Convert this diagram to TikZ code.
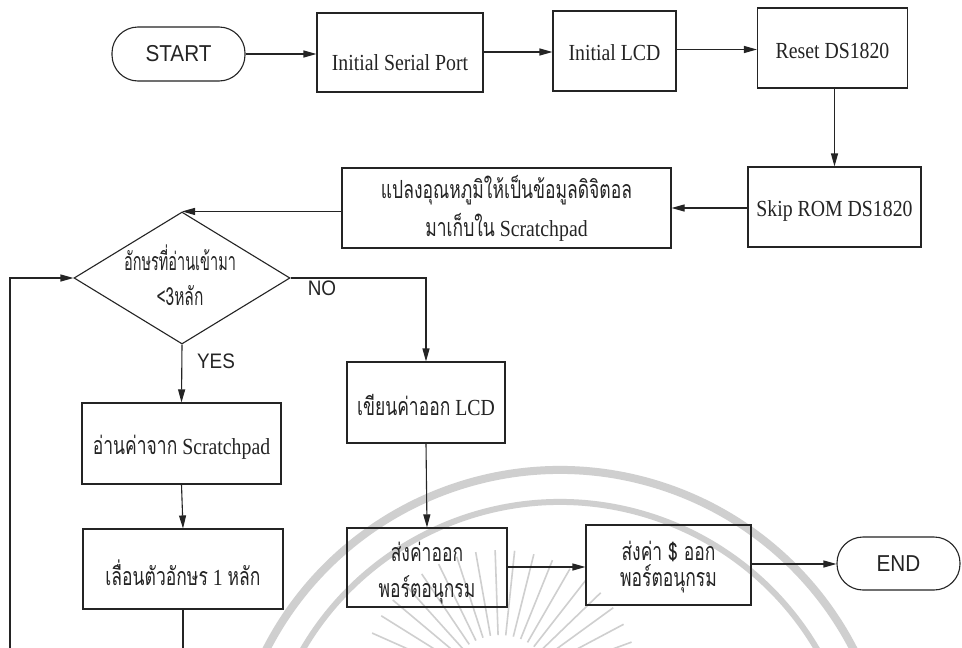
\documentclass[tikz,border=0pt]{standalone}
\usepackage{graphicx}
\usepackage{fontspec}
\setmainfont{Liberation Serif}[FakeStretch=0.86]
\newfontfamily\thaif{Loma}[Script=Thai]
\newfontfamily\sansf{Liberation Sans}[FakeStretch=0.9]
\usetikzlibrary{shapes.geometric,arrows.meta}

\definecolor{ink}{HTML}{242424}
\definecolor{seal}{HTML}{CFCFCF}

% lower a line of text inside its box without changing the box size
\newcommand\dropby[2]{\raisebox{-#1}[\height][\depth]{#2}}
% narrow, tall Thai lettering (optional argument: horizontal squeeze)
\newcommand\thaitxt[2][0.7]{{\thaif\fontsize{25}{30}\selectfont\scalebox{#1}[1]{#2}}}

\tikzset{
  base/.style={draw=ink, line width=1.1pt, text=ink, inner sep=0pt, align=center},
  box/.style={base, rectangle, font=\fontsize{23}{28}\selectfont},
  term/.style={base, rectangle, rounded corners=26pt, font=\sansf\fontsize{23}{28}\selectfont},
  decision/.style={base, diamond},
  words/.style={text=ink, inner sep=0pt, align=center},
  flow/.style={draw=ink, line width=1.1pt, -{Triangle[length=13pt,width=7pt]}},
  link/.style={draw=ink, line width=1.1pt},
  tag/.style={text=ink, inner sep=0pt, font=\sansf\fontsize{21}{24}\selectfont},
}

\begin{document}
\begin{tikzpicture}[x=1pt,y=-1pt]
\useasboundingbox (0,0) rectangle (962,648);
\clip (0,0) rectangle (962,648);
\fill[white] (0,0) rectangle (962,648);

% faint seal printed behind the chart
\begin{scope}[draw=seal]
  \draw[line width=8pt] (560,800) ++(200:330) arc[start angle=200, end angle=340, radius=330];
  \draw[line width=6pt] (560,800) ++(198:298) arc[start angle=198, end angle=342, radius=298];
  \foreach \a in {196,204,...,344}
    \draw[line width=1.6pt] (500,690) ++(\a:55) -- ++(\a:85);
\end{scope}

% top row
\node[term, minimum width=133pt, minimum height=54pt] (start) at (178.5,54) {START};
\node[box, minimum width=166pt, minimum height=79pt] (isp) at (400,52.5) {\dropby{10pt}{Initial Serial Port}};
\node[box, minimum width=123pt, minimum height=80pt] (ilcd) at (614.5,51) {\dropby{2pt}{Initial LCD}};
\node[box, minimum width=150pt, minimum height=80pt] (reset) at (832.5,48) {\dropby{3pt}{Reset DS1820}};

% second row
\node[box, minimum width=173pt, minimum height=80pt] (skip) at (834.5,207) {\dropby{4pt}{Skip ROM DS1820}};
\node[box, minimum width=329pt, minimum height=80pt, font=\fontsize{23}{38}\selectfont] (conv) at (506.5,208)
  {\thaitxt{แปลงอุณหภูมิให้เป็นข้อมูลดิจิตอล}\\\thaitxt{มาเก็บใน} Scratchpad};

% decision
\node[decision, minimum width=216pt, minimum height=132pt] (dia) at (182,278) {};
\node[words, font=\fontsize{22}{35}\selectfont] (diatext) at (180,275)
  {\thaitxt[0.58]{อักษรที่อ่านเข้ามา}\\\thaitxt[0.62]{<3หลัก}};
\node[tag] (no) at (322,288) {NO};
\node[tag] (yes) at (216,361) {YES};

% left branch
\node[box, minimum width=199pt, minimum height=81pt] (read) at (181.5,443.5)
  {\dropby{4pt}{\thaitxt{อ่านค่าจาก} Scratchpad}};
\node[box, minimum width=200pt, minimum height=80pt] (shift) at (183,569)
  {\dropby{4pt}{\thaitxt{เลื่อนตัวอักษร} 1 \thaitxt{หลัก}}};

% right branch
\node[box, minimum width=158pt, minimum height=81pt] (lcd) at (426,402.5)
  {\dropby{3pt}{\thaitxt{เขียนค่าออก} LCD}};
\node[box, minimum width=160pt, minimum height=79pt] (send1) at (427,567.5) {};
\node[words, font=\fontsize{22}{36}\selectfont] (send1text) at (427,573.5)
  {\thaitxt{ส่งค่าออก}\\\thaitxt{พอร์ตอนุกรม}};
\node[box, minimum width=165pt, minimum height=80pt] (send2) at (668.5,565) {};
\node[words, font=\fontsize{22}{26}\selectfont] (send2text) at (668.5,567.5)
  {\thaitxt{ส่งค่า \$ ออก}\\\thaitxt{พอร์ตอนุกรม}};
\node[term, minimum width=123pt, minimum height=53pt] (end) at (898.5,563.5) {END};

% loop corner below the chart
\coordinate (loopdown) at (183,670);
\coordinate (loopleft) at (10,670);

% connectors
\draw[flow] (start.east) -- (start.east -| isp.west);
\draw[flow] (isp.east |- 0,52) -- (ilcd.west |- 0,52);
\draw[flow] (ilcd.east |- 0,49.5) -- (reset.west |- 0,49.5);
\draw[flow] (reset.south -| skip.north) -- (skip.north);
\draw[flow] (skip.west |- 0,208) -- (conv.east |- 0,208);
\draw[flow] (conv.west |- dia.north) -- (dia.north);
\draw[flow] (dia.east) -| (lcd.north);
\draw[flow] (dia.south) -- (read.north);
\draw[flow] (read.south) -- (shift.north);
\draw[link] (shift.south) -- (loopdown) -- (loopleft);
\draw[flow] (loopleft) |- (dia.west);
\draw[flow] (lcd.south) -- (send1.north);
\draw[flow] (send1.east |- 0,567) -- (send2.west |- 0,567);
\draw[flow] (send2.east |- 0,564) -- (end.west |- 0,564);
\end{tikzpicture}
\end{document}
